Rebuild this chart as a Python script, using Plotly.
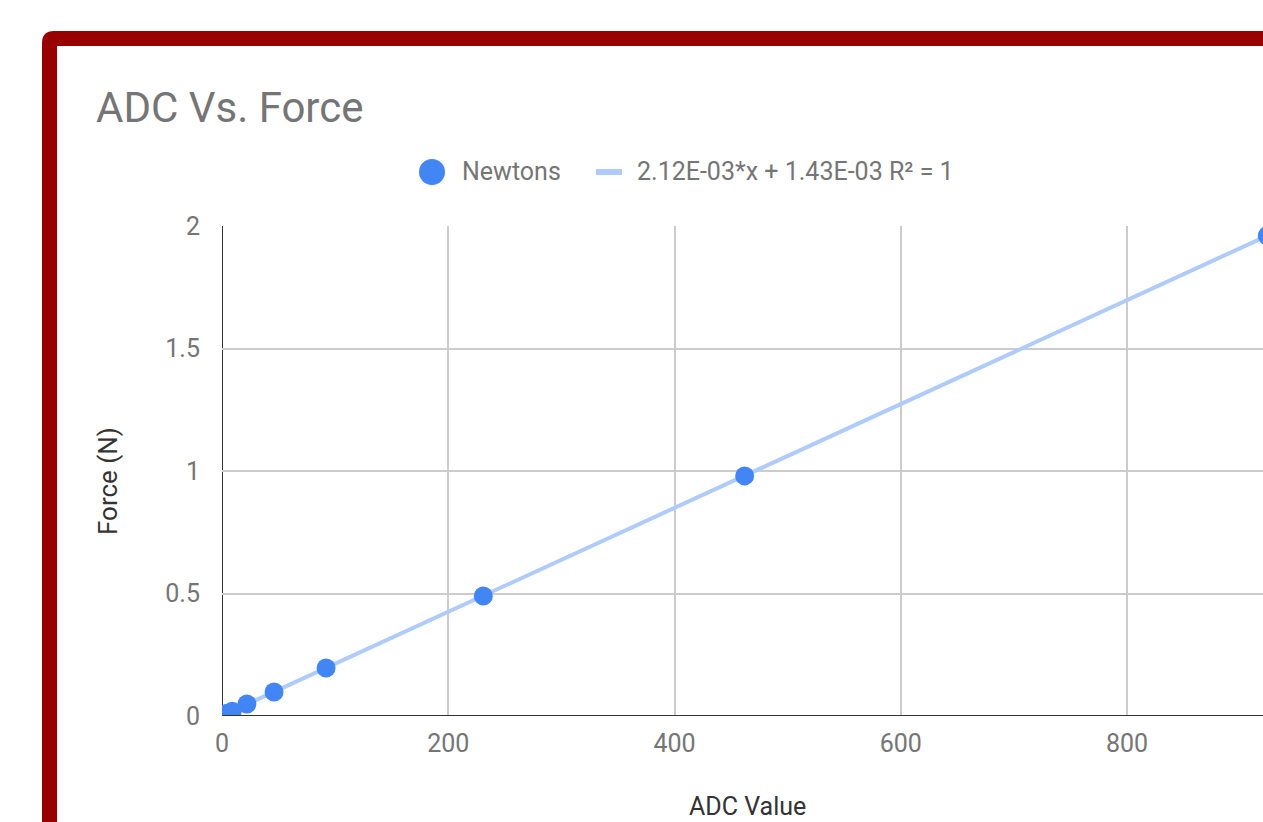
import plotly.graph_objects as go

# ---- data ----
adc_values = [4, 9, 22, 46, 92, 231, 462, 924]
force_newtons = [0.0098, 0.0196, 0.049, 0.098, 0.196, 0.49, 0.98, 1.96]
trend_slope = 2.12e-03
trend_intercept = 1.43e-03
trend_label = "2.12E-03*x + 1.43E-03 R² = 1"
series_label = "Newtons"
chart_title = "ADC Vs. Force"
x_title = "ADC Value"
y_title = "Force (N)"
y_ticks = [0, 0.5, 1, 1.5, 2]
y_tick_labels = ["0", "0.5", "1", "1.5", "2"]
x_ticks = [0, 200, 400, 600, 800]
x_tick_labels = ["0", "200", "400", "600", "800"]

W, H = 1263, 822
BLUE = "#4285f4"
LIGHT_BLUE = "#aecbfa"
FRAME = "#990000"


def px(x):
    return x / W


def py(y):
    return 1 - y / H


trend_x = [min(adc_values), max(adc_values)]
trend_y = [trend_slope * v + trend_intercept for v in trend_x]

fig = go.Figure()
fig.add_trace(go.Scatter(
    x=trend_x, y=trend_y, mode="lines", name=trend_label, showlegend=False,
    line=dict(color=LIGHT_BLUE, width=4), cliponaxis=True,
))
fig.add_trace(go.Scatter(
    x=adc_values, y=force_newtons, mode="markers", name=series_label,
    showlegend=False,
    marker=dict(color=BLUE, size=19), cliponaxis=True,
))

# frame (L-shaped red border with rounded outer corner)
frame_path = (
    f"M {px(42)},{py(900)} L {px(42)},{py(43)} "
    f"Q {px(42)},{py(31)} {px(54)},{py(31)} "
    f"L {px(1400)},{py(31)} L {px(1400)},{py(46)} "
    f"L {px(57)},{py(46)} L {px(57)},{py(900)} Z"
)

x_end = 1041 / 1.13125

legend_font = dict(family="Roboto", size=25, color="#757575")

fig.update_layout(
    width=W, height=H,
    margin=dict(l=0, r=0, t=0, b=0),
    paper_bgcolor="white", plot_bgcolor="white",
    showlegend=False,
    font=dict(family="Roboto", color="#757575"),
    title=dict(text=chart_title, x=px(96), xanchor="left",
               y=py(107), yanchor="middle",
               font=dict(family="Roboto", size=42, color="#757575")),
    xaxis=dict(domain=[px(222), 1], range=[0, x_end],
               tickvals=x_ticks, ticktext=x_tick_labels,
               showgrid=True, gridcolor="#cccccc", gridwidth=1.5,
               zeroline=False, showline=False, ticks="",
               tickfont=dict(family="Roboto", size=25, color="#757575"),
               ticklabelstandoff=10, automargin=False),
    yaxis=dict(domain=[py(716), py(226)], range=[0, 2],
               tickvals=y_ticks, ticktext=y_tick_labels,
               showgrid=True, gridcolor="#cccccc", gridwidth=1.5,
               zeroline=False, showline=False, ticks="",
               tickfont=dict(family="Roboto", size=25, color="#757575"),
               ticklabelstandoff=21, automargin=False),
    shapes=[
        dict(type="line", xref="x", yref="y", x0=0, x1=x_end + 20,
             y0=0, y1=0, line=dict(color="#333333", width=2), layer="above"),
        dict(type="line", xref="x", yref="y", x0=0, x1=0, y0=0, y1=2,
             line=dict(color="#333333", width=2), layer="below"),
        # legend symbols
        dict(type="circle", xref="paper", yref="paper",
             x0=px(419), x1=px(445), y0=py(185), y1=py(159),
             fillcolor=BLUE, line=dict(width=0)),
        dict(type="rect", xref="paper", yref="paper",
             x0=px(596), x1=px(622), y0=py(175), y1=py(169),
             fillcolor=LIGHT_BLUE, line=dict(width=0)),
        dict(type="path", xref="paper", yref="paper", path=frame_path,
             fillcolor=FRAME, line=dict(width=0), layer="above"),
    ],
    annotations=[
        dict(text=series_label, xref="paper", yref="paper", x=px(460),
             y=py(172), xanchor="left", yanchor="middle", showarrow=False,
             font=legend_font),
        dict(text=trend_label, xref="paper", yref="paper", x=px(635),
             y=py(172), xanchor="left", yanchor="middle", showarrow=False,
             font=legend_font),
        dict(text=x_title, xref="paper", yref="paper", x=px(747),
             y=py(806), xanchor="center", yanchor="middle", showarrow=False,
             font=dict(family="Roboto", size=25, color="#333333")),
        dict(text=y_title, xref="paper", yref="paper", x=px(108),
             y=py(481), xanchor="center", yanchor="middle", showarrow=False,
             textangle=-90,
             font=dict(family="Roboto", size=26, color="#333333")),
    ],
)

fig.write_html(
    "out.html",
    config={"displayModeBar": False},
    post_script="document.body.style.margin='0';document.body.style.overflow='hidden';",
)
